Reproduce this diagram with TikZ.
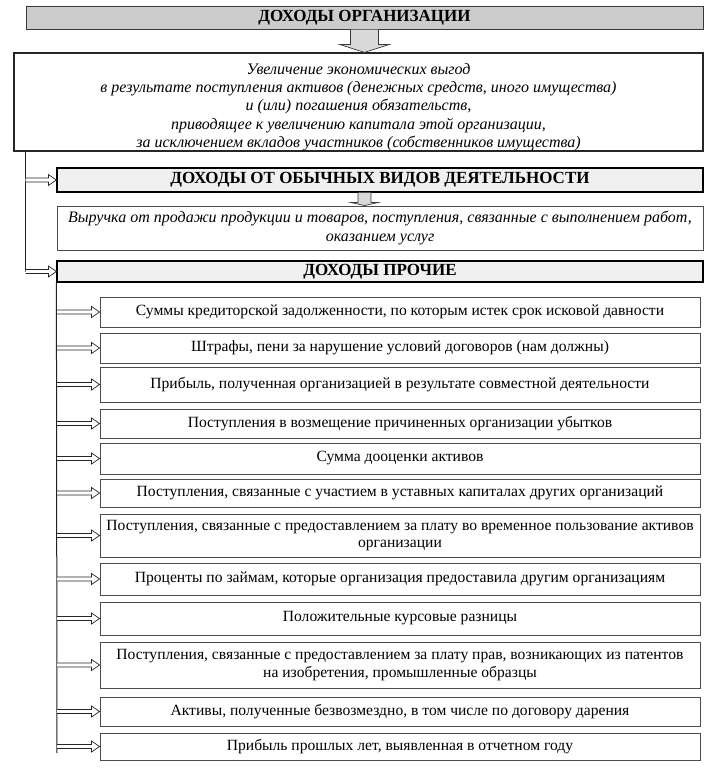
\documentclass[tikz,border=0pt]{standalone}
\usepackage{fontspec}
\setmainfont{Liberation Serif}
\usetikzlibrary{arrows.meta,calc}

\begin{document}
\begin{tikzpicture}[x=1pt,y=-1pt,
    sz/.style 2 args={minimum width=#1pt, minimum height=#2pt},
    titlebox/.style={draw=gray!45!black, line width=1pt, fill=gray!40, inner sep=0pt,
      font=\fontsize{17}{19}\selectfont\bfseries},
    headbox/.style={draw=black, line width=1.2pt, fill=gray!12, inner sep=0pt,
      font=\fontsize{17}{19}\selectfont\bfseries},
    defbox/.style={draw=gray!30!black, line width=1.2pt, fill=white, inner sep=0pt, align=center,
      font=\fontsize{16}{18.3}\selectfont\itshape},
    itembox/.style={draw=gray!60!black, line width=0.9pt, fill=white, inner sep=0pt, align=center,
      font=\fontsize{15.6}{17.5}\selectfont},
    spine/.style={draw=gray!25!black, line width=1pt},
    % hollow double arrow to a box
    dblarrow/.style={draw=gray!30!black, line width=0.7pt, fill=white,
      to path={let \p1=(\tikztostart), \p2=(\tikztotarget) in
        (\x1,{\y1+2pt}) -- ({\x2-8pt},{\y1+2pt}) -- ({\x2-8pt},{\y1+5.5pt}) -- (\x2,\y1)
        -- ({\x2-8pt},{\y1-5.5pt}) -- ({\x2-8pt},{\y1-2pt}) -- (\x1,{\y1-2pt})}},
    % grey block arrow downwards
    blockdown/.style n args={3}{draw=gray!45!black, line width=0.7pt, fill=gray!30,
      to path={let \p1=(\tikztostart), \p2=(\tikztotarget) in
        ({\x1-#1},\y1) -- ({\x1-#1},{\y2+#3}) -- ({\x1-#2},{\y2+#3}) -- (\x1,\y2)
        -- ({\x1+#2},{\y2+#3}) -- ({\x1+#1},{\y2+#3}) -- ({\x1+#1},\y1)}}
  ]
    \useasboundingbox (0,0) rectangle (728,771);
    % Top part
    \node[titlebox, sz={677}{23}] (title) at (364.5,17.5) {ДОХОДЫ ОРГАНИЗАЦИИ};
    \node[defbox, sz={689}{98}] (def) at (358.5,102) {\rule{0pt}{21pt}Увеличение экономических выгод\\
      в результате поступления активов (денежных средств, иного имущества)\\
      и (или) погашения обязательств,\\
      приводящее к увеличению капитала этой организации,\\
      за исключением вкладов участников (собственников имущества)};
    \node[headbox, sz={646}{24}] (ordin) at (380,180) {ДОХОДЫ ОТ ОБЫЧНЫХ ВИДОВ ДЕЯТЕЛЬНОСТИ};
    \node[defbox, line width=0.9pt, draw=gray!60!black, sz={646}{44}] (revenue) at (380,228)
      {Выручка от продажи продукции и товаров, поступления, связанные с выполнением работ,\\
      оказанием услуг};
    \node[headbox, sz={646}{21}] (other) at (380,271.5) {ДОХОДЫ ПРОЧИЕ};
    % Other incomes
    \node[itembox, sz={600}{30}] (i1) at (400,312) {Суммы кредиторской задолженности, по которым истек срок исковой давности};
    \node[itembox, sz={600}{30}] (i2) at (400,348) {Штрафы, пени за нарушение условий договоров (нам должны)};
    \node[itembox, sz={600}{35}] (i3) at (400,384.5) {Прибыль, полученная организацией в результате совместной деятельности};
    \node[itembox, sz={600}{29}] (i4) at (400,423.5) {Поступления в возмещение причиненных организации убытков};
    \node[itembox, sz={600}{31}] (i5) at (400,458.5) {Сумма дооценки активов};
    \node[itembox, sz={600}{28}] (i6) at (400,493) {Поступления, связанные с участием в уставных капиталах других организаций};
    \node[itembox, sz={600}{43}] (i7) at (400,535.5) {Поступления, связанные с предоставлением за плату во временное пользование активов\\ организации};
    \node[itembox, sz={600}{32}] (i8) at (400,579) {Проценты по займам, которые организация предоставила другим организациям};
    \node[itembox, sz={600}{33}] (i9) at (400,618.5) {Положительные курсовые разницы};
    \node[itembox, sz={600}{46}] (i10) at (400,665) {Поступления, связанные с предоставлением за плату прав, возникающих из патентов\\ на изобретения, промышленные образцы};
    \node[itembox, sz={600}{29}] (i11) at (400,711.5) {Активы, полученные безвозмездно, в том числе по договору дарения};
    \node[itembox, sz={600}{27}] (i12) at (400,746.5) {Прибыль прошлых лет, выявленная в отчетном году};
    % Block arrows
    \draw[blockdown={14pt}{25pt}{8pt}] (title.south) to (def.north);
    \draw[blockdown={6.5pt}{13.5pt}{3pt}] (ordin.south -| title.south) to (revenue.north -| title.south);
    % Spines
    \coordinate (spend) at (57,753);
    \draw[spine] (def.south -| title.west) -- (other.west -| title.west);
    \draw[spine] (other.south west) -- (spend);
    % Arrows
    \draw[dblarrow] (ordin.west -| title.west) to (ordin.west);
    \draw[dblarrow] (other.west -| title.west) to (other.west);
    \draw[dblarrow] (i1.west -| spend) to (i1.west);
    \draw[dblarrow] (i2.west -| spend) to (i2.west);
    \draw[dblarrow] (i3.west -| spend) to (i3.west);
    \draw[dblarrow] (i4.west -| spend) to (i4.west);
    \draw[dblarrow] (i5.west -| spend) to (i5.west);
    \draw[dblarrow] (i6.west -| spend) to (i6.west);
    \draw[dblarrow] (i7.west -| spend) to (i7.west);
    \draw[dblarrow] (i8.west -| spend) to (i8.west);
    \draw[dblarrow] (i9.west -| spend) to (i9.west);
    \draw[dblarrow] (i10.west -| spend) to (i10.west);
    \draw[dblarrow] (i11.west -| spend) to (i11.west);
    \draw[dblarrow] (i12.west -| spend) to (i12.west);
\end{tikzpicture}
\end{document}
